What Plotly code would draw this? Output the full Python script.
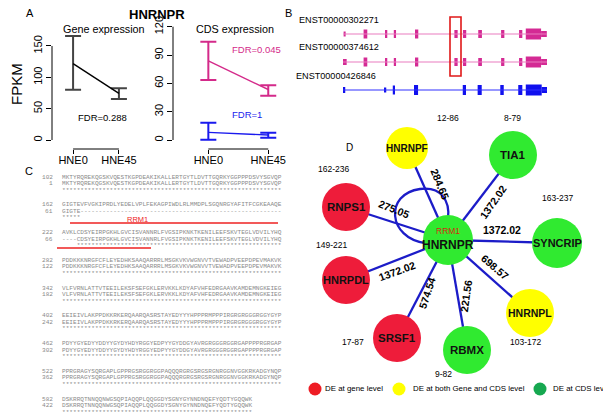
import plotly.graph_objects as go

W, H = 611, 417
OX, OY = 8, 8  # page body margin compensation


def px(x):
    return (x - OX) / W


def py(y):
    return 1 - (y - OY) / H


# ---------------- Panel A data ----------------
groups = ["HNE0", "HNE45"]
gene_mean = [122, 74.5]
gene_lo = [80, 65.5]
gene_hi = [166, 82.5]
cds_a_mean = [83.7, 53.5]   # ENST00000302271 / 374612 (magenta)
cds_a_lo = [63.6, 47]
cds_a_hi = [104, 58]
cds_b_mean = [8.1, 5.3]     # ENST00000426846 (blue)
cds_b_lo = [0.2, 2.5]
cds_b_hi = [18.3, 7.8]
gene_ticks = [0, 50, 100, 150]
cds_ticks = [0, 30, 60, 90, 120]

# ---------------- Panel B data (relative transcript position 0-100) ----------------
transcripts = ["ENST00000302271", "ENST00000374612", "ENST00000426846"]
tx_colors = ["#d42a94", "#d42a94", "#1010ee"]
tx_line_colors = ["#ea7cc0", "#ea7cc0", "#3030ff"]
ex_start = [
    [0.3, 10.1, 20.6, 24.9, 35.3, 54.6, 58.8, 66.3, 77.5, 86.3, 89.6, 97.1],
    [-1.1, 10.1, 20.6, 24.9, 35.3, 54.6, 58.8, 66.3, 77.5, 86.3, 89.6, 97.1],
    [0.0, 20.1, 24.4, 34.8, 58.7, 66.0, 77.1, 85.9, 89.6, 97.4],
]
ex_end = [
    [1.3, 11.9, 21.7, 26.0, 36.9, 56.2, 60.4, 68.1, 79.1, 87.9, 97.1, 99.9],
    [1.8, 11.9, 21.7, 26.0, 36.9, 56.2, 60.4, 68.1, 79.1, 87.9, 97.1, 101.5],
    [1.1, 21.2, 25.5, 36.8, 60.3, 68.0, 78.8, 87.9, 97.4, 100.0],
]
ex_thick = [
    [5, 9, 8, 8, 9, 8, 8, 8, 8, 8, 11, 6],
    [6, 9, 8, 8, 9, 8, 8, 8, 8, 8, 11, 6],
    [6, 5, 9, 10, 10, 10, 10, 10, 11, 6],
]

# ---------------- Panel C data ----------------
seq_top = [
    "MKTYRQREKQGSKVQESTKGPDEAKIKALLERTGYTLDVTTGQRKYGGPPPDSVYSGVQP",
    "GIGTEVFVGKIPRDLYEDELVPLFEKAGPIWDLRLMMDPLSGQNRGYAFITFCGKEAAQE",
    "AVKLCDSYEIRPGKHLGVCISVANNRLFVGSIPKNKTKENILEEFSKVTEGLVDVILYHQ",
    "PDDKKKNRGFCFLEYEDHKSAAQARRRLMSGKVKVWGNVVTVEWADPVEEPDPEVMAKVK",
    "VLFVRNLATTVTEEILEKSFSEFGKLERVKKLKDYAFVHFEDRGAAVKAMDEMNGKEIEG",
    "EEIEIVLAKPPDKKRKERQAARQASRSTAYEDYYYHPPPRMPPPIRGRGRGGGRGGYGYP",
    "PDYYGYEDYYDDYYGYDYHDYRGGYEDPYYGYDDGYAVRGRGGGRGGRGAPPPPRGRGAP",
    "PPRGRAGYSQRGAPLGPPRGSRGGRGGPAQQQRGRGSRGSRGNRGGNVGGKRKADGYNQP",
    "DSKRRQTNNQQNWGSQPIAQQPLQQGGDYSGNYGYNNDNQEFYQDTYGQQWK",
]
seq_bot = list(seq_top)
seq_bot[1] = "GIGTE" + "-" * 55
seq_bot[2] = "----" + seq_top[2][4:]
stars = ["*" * len(s) for s in seq_top]
stars[1] = "*****"
stars[2] = "\u00a0" * 4 + "*" * 56
num_top = [102, 162, 222, 282, 342, 402, 462, 522, 582]
num_bot = [1, 61, 66, 122, 182, 242, 302, 362, 422]

# ---------------- Panel D data ----------------
nodes = ["HNRNPR", "HNRNPF", "TIA1", "RNPS1", "SYNCRIP", "HNRPDL", "HNRNPL", "SRSF1", "RBMX"]
status = ["cds", "both", "cds", "gene", "cds", "gene", "both", "gene", "cds"]
edge_weight = ["", "284.65", "1372.02", "275.05", "1372.02", "1372.02", "698.57", "574.54", "221.56"]
rrm_range = ["", "12-86", "8-79", "162-236", "163-237", "149-221", "103-172", "17-87", "9-82"]
legend_labels = ["DE at gene level", "DE at both Gene and CDS level", "DE at CDS level"]

status_color = {"gene": "#ee1c3a", "both": "#ffff00", "cds": "#30ea30"}
legend_colors = ["#ee1c24", "#ffff00", "#16a850"]

# network layout (pixel positions in figure)
node_x = [448, 407, 513, 346, 557, 346, 530, 397, 467]
node_y = [240, 148, 155, 207, 243, 280, 313, 338, 350]
node_size = [50, 42, 48, 48, 50, 48, 48, 48, 48]
node_font = [12, 10, 11.5, 11.5, 11, 11, 10.5, 11.5, 11.5]
wlab_x = [None, 440, 493, 394, 502, 397, 495, 427, 466]
wlab_y = [None, 184, 202, 209, 230, 271, 267, 293, 296]
wlab_ang = [0, 68, -55, 22, 0, -20, 40, -72, -82]
rlab_x = [None, 448, 512, 333, 557, 331, 525, 353, 443]
rlab_y = [None, 118, 118, 169, 198, 245, 342, 342, 374]

fig = go.Figure()

# ---- Panel A traces
fig.add_trace(go.Scatter(
    x=groups, y=gene_mean, mode="lines", line=dict(color="black", width=1.4),
    error_y=dict(type="data", symmetric=False,
                 array=[h - m for h, m in zip(gene_hi, gene_mean)],
                 arrayminus=[m - l for l, m in zip(gene_lo, gene_mean)],
                 color="#444444", thickness=2, width=8),
    xaxis="x", yaxis="y", showlegend=False, hoverinfo="skip"))
fig.add_trace(go.Scatter(
    x=groups, y=cds_a_mean, mode="lines", line=dict(color="#d42a8a", width=1.4),
    error_y=dict(type="data", symmetric=False,
                 array=[h - m for h, m in zip(cds_a_hi, cds_a_mean)],
                 arrayminus=[m - l for l, m in zip(cds_a_lo, cds_a_mean)],
                 color="#d42a8a", thickness=2, width=8),
    xaxis="x2", yaxis="y2", showlegend=False, hoverinfo="skip"))
fig.add_trace(go.Scatter(
    x=groups, y=cds_b_mean, mode="lines", line=dict(color="#1a1aee", width=1.4),
    error_y=dict(type="data", symmetric=False,
                 array=[h - m for h, m in zip(cds_b_hi, cds_b_mean)],
                 arrayminus=[m - l for l, m in zip(cds_b_lo, cds_b_mean)],
                 color="#1a1aee", thickness=2, width=8),
    xaxis="x2", yaxis="y2", showlegend=False, hoverinfo="skip"))

# ---- Panel B traces
for i, name in enumerate(transcripts):
    fig.add_trace(go.Scatter(
        x=[min(ex_start[i]), max(ex_end[i])], y=[i, i], mode="lines",
        line=dict(color=tx_line_colors[i], width=1.2),
        xaxis="x4", yaxis="y4", showlegend=False, hoverinfo="skip"))
    fig.add_trace(go.Bar(
        orientation="h", y=[i] * len(ex_start[i]),
        x=[e - s for s, e in zip(ex_start[i], ex_end[i])], base=ex_start[i],
        width=[t / 28 for t in ex_thick[i]], marker=dict(color=tx_colors[i], line=dict(width=0)),
        xaxis="x4", yaxis="y4", showlegend=False, hoverinfo="skip"))

# ---- Panel D traces
ex, ey = [], []
for i in range(1, len(nodes)):
    ex += [node_x[0], node_x[i], None]
    ey += [node_y[0], node_y[i], None]
fig.add_trace(go.Scatter(x=ex, y=ey, mode="lines", line=dict(color="#1c1cc8", width=2.3),
                         xaxis="x3", yaxis="y3", showlegend=False, hoverinfo="skip"))
fig.add_trace(go.Scatter(
    x=node_x, y=node_y, mode="markers",
    marker=dict(size=node_size, color=[status_color[s] for s in status],
                opacity=1, line=dict(width=0)),
    xaxis="x3", yaxis="y3", showlegend=False, hoverinfo="skip"))
# legend markers
leg_x = [315, 399, 540]
fig.add_trace(go.Scatter(
    x=leg_x, y=[389] * 3, mode="markers",
    marker=dict(size=13, color=legend_colors, opacity=1, line=dict(width=0)),
    xaxis="x3", yaxis="y3", showlegend=False, hoverinfo="skip"))

ann = []
FONT = "Arial"


def add_text(x, y, text, size, color="black", bold=False, angle=0, xanchor="center", family=FONT):
    t = f"<b>{text}</b>" if bold else text
    ann.append(dict(x=x, y=y, xref="x3", yref="y3", text=t, showarrow=False,
                    font=dict(size=size, color=color, family=family), textangle=angle,
                    xanchor=xanchor, yanchor="middle"))


# Panel A text
add_text(30, 13, "A", 11)
add_text(157, 14, "HNRNPR", 13, bold=True)
add_text(16, 84, "FPKM", 15, angle=-90)
add_text(104, 29, "Gene expression", 10.8)
add_text(235, 29, "CDS expression", 10.8)
add_text(102, 117, "FDR=0.288", 9.5)
add_text(256, 49, "FDR=0.045", 9.5, color="#d42a8a")
add_text(247, 114, "FDR=1", 9.5, color="#1a1aee")

# Panel B text
add_text(288, 13, "B", 11)
tx_lab_x = [381, 381, 378]
tx_lab_y = [20, 47, 76]
for i, name in enumerate(transcripts):
    add_text(tx_lab_x[i], tx_lab_y[i], name, 9.1, xanchor="right")

# Panel C text
add_text(29, 171, "C", 11)
block_y0 = 177
for b in range(len(seq_top)):
    y0 = block_y0 + b * 27.75
    mono = "Liberation Mono"
    add_text(55, y0, str(num_top[b]), 6.1, color="#8a8a8a", xanchor="right", family=mono)
    add_text(59.5, y0, seq_top[b], 6.1, color="#8a8a8a", xanchor="left", family=mono)
    add_text(55, y0 + 6.7, str(num_bot[b]), 6.1, color="#8a8a8a", xanchor="right", family=mono)
    add_text(59.5, y0 + 6.7, seq_bot[b], 6.1, color="#8a8a8a", xanchor="left", family=mono)
    add_text(59.5, y0 + 13.2, stars[b], 6.1, color="#8a8a8a", xanchor="left", family=mono)
add_text(137, 219, "RRM1", 7.5, color="#ee2222")

# Panel D text
add_text(349, 147, "D", 10)
for i, n in enumerate(nodes):
    yoff = 5 if i == 0 else 0
    add_text(node_x[i], node_y[i] + yoff, n, node_font[i], color="#111111", bold=True)
add_text(448, 231, "RRM1", 8.5, color="#d42a10")
for i in range(1, len(nodes)):
    add_text(wlab_x[i], wlab_y[i], edge_weight[i], 10.5, bold=True, angle=wlab_ang[i])
    add_text(rlab_x[i], rlab_y[i], rrm_range[i], 8.5)
leg_tx = [323, 411, 551]
for i, l in enumerate(legend_labels):
    add_text(leg_tx[i], 388, l, 7.9, xanchor="left")

shapes = [
    # panel A axis lines (R style)
    dict(type="line", xref="paper", yref="y", x0=px(52), x1=px(52), y0=0, y1=150,
         line=dict(color="black", width=1)),
    dict(type="line", xref="x", yref="paper", x0=0, x1=1, y0=py(149), y1=py(149),
         line=dict(color="black", width=1)),
    dict(type="line", xref="paper", yref="y2", x0=px(173), x1=px(173), y0=0, y1=120,
         line=dict(color="black", width=1)),
    dict(type="line", xref="x2", yref="paper", x0=0, x1=1, y0=py(149), y1=py(149),
         line=dict(color="black", width=1)),
    # panel B highlighted exon box
    dict(type="rect", xref="x3", yref="y3", x0=450, x1=461, y0=17, y1=76,
         line=dict(color="#e01818", width=1.6)),
    # panel C RRM1 underlines
    dict(type="line", xref="x3", yref="y3", x0=70, x1=278, y0=223, y1=223,
         line=dict(color="#ee2222", width=1.4)),
    dict(type="line", xref="x3", yref="y3", x0=57, x1=151, y0=248, y1=248,
         line=dict(color="#ee2222", width=1.4)),
    # panel D self loop
    dict(type="path", xref="x3", yref="y3",
         path="M 425 243 C 388 238, 384 194, 420 189 C 442 186, 450 202, 448 218",
         line=dict(color="#1c1cc8", width=2.3), layer="below"),
]

axis_common = dict(showgrid=False, zeroline=False, showline=False, ticks="outside",
                   tickcolor="black", tickfont=dict(size=11, color="black", family=FONT))

fig.update_layout(
    width=W, height=H, margin=dict(l=0, r=0, t=0, b=0),
    paper_bgcolor="white", plot_bgcolor="rgba(0,0,0,0)",
    barmode="overlay", showlegend=False,
    xaxis=dict(domain=[px(52), px(140)], range=[-0.46, 1.46], type="category",
               ticklen=4, ticklabelstandoff=-3, anchor="y", **axis_common),
    yaxis=dict(domain=[py(149), py(15)], range=[-9 / 0.6267, 125 / 0.6267],
               tickvals=gene_ticks, tickangle=-90, ticklen=5, anchor="x", **axis_common),
    xaxis2=dict(domain=[px(173), px(300)], range=[-0.59, 1.53], type="category",
                ticklen=4, ticklabelstandoff=-3, anchor="y2", **axis_common),
    yaxis2=dict(domain=[py(149), py(15)], range=[-9 / 0.944, 125 / 0.944],
                tickvals=cds_ticks, tickangle=-90, ticklen=5, anchor="x2", **axis_common),
    xaxis3=dict(domain=[0, 1], range=[OX, W + OX], visible=False, anchor="y3"),
    yaxis3=dict(domain=[0, 1], range=[H + OY, OY], visible=False, anchor="x3"),
    xaxis4=dict(domain=[px(343), px(547)], range=[0, 100], visible=False, anchor="y4"),
    yaxis4=dict(domain=[py(104), py(20)], range=[2.5, -0.5], visible=False, anchor="x4"),
    annotations=ann, shapes=shapes,
)

fig.write_html("out.html")
